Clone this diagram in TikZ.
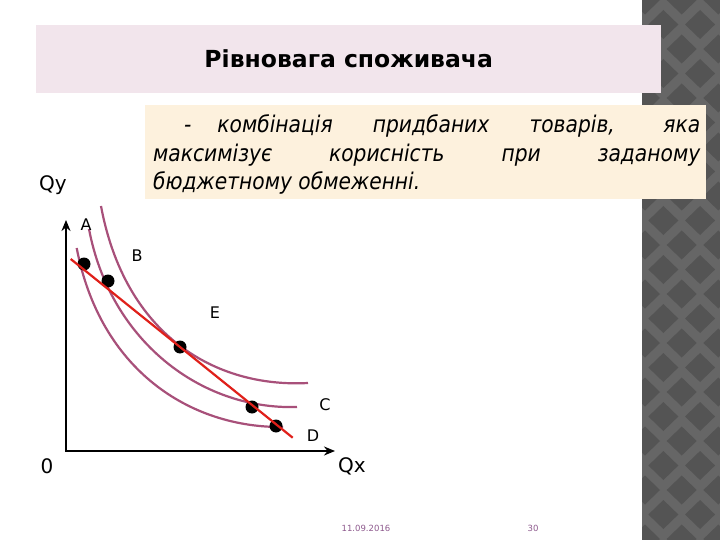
\documentclass[tikz,border=0pt]{standalone}
\usepackage{fontspec}
\setmainfont{DejaVu Sans}
\newfontfamily\narrowfont[FakeStretch=0.88]{DejaVu Sans}
\usetikzlibrary{arrows.meta}
\definecolor{pinkbg}{HTML}{F2E5EC}
\definecolor{creambg}{HTML}{FDF1DD}
\definecolor{stripLight}{HTML}{666666}
\definecolor{stripDark}{HTML}{545454}
\definecolor{curvecol}{HTML}{A8507A}
\definecolor{budgetcol}{HTML}{E0201A}
\definecolor{footcol}{HTML}{8E5A8E}
\tikzset{
  icurve/.style={draw=curvecol, line width=2.2pt},
  budget/.style={draw=budgetcol, line width=2.2pt},
  bundle/.style={circle, fill=black, inner sep=0pt, minimum size=13pt},
  axis/.style={line width=2.4pt, {Stealth[length=11pt,width=9pt]}-{Stealth[length=11pt,width=9pt]}},
  ptlabel/.style={font=\fontsize{16}{19}\selectfont, inner sep=0pt},
  axlabel/.style={font=\fontsize{20}{24}\selectfont, inner sep=0pt},
  foot/.style={font=\fontsize{8.5}{10}\selectfont, text=footcol, inner sep=0pt}
}
\begin{document}
\begin{tikzpicture}[x=1pt,y=-1pt]
\useasboundingbox (0,0) rectangle (720,540);
\fill[white] (0,0) rectangle (720,540);
% patterned strip
\fill[stripLight] (642,0) rectangle (720,540);
\begin{scope}
\clip (642,0) rectangle (720,540);
\foreach \l in {-11,...,13} {
  \foreach \k in {-2,...,2} {
    \pgfmathsetmacro{\cx}{681.7+36.7*\k+18.35*mod(\l+22,2)}
    \pgfmathsetmacro{\cy}{245+24.5*\l}
    \fill[stripDark] (\cx,\cy) +(-15,0) -- +(0,-14.5) -- +(15,0) -- +(0,14.5) -- cycle;
  }
}
\end{scope}
% title
\node (title) [fill=pinkbg, minimum width=625pt, minimum height=68pt, inner sep=0pt,
  anchor=north west, font=\bfseries\fontsize{23.5}{28}\selectfont] at (36,25) {Рівновага споживача};
% definition box
\node (defbox) [fill=creambg, minimum width=561pt, minimum height=94pt, inner sep=0pt, anchor=north west] at (145,105) {};
\node (deftext) [anchor=base west, inner sep=0pt] at (153,133) {\parbox[t]{547pt}{\narrowfont\itshape\fontsize{23}{28.5}\selectfont
\makebox[547pt][s]{\hspace*{31pt}-\hspace{26pt}комбінація придбаних товарів, яка}\\
\makebox[547pt][s]{максимізує корисність при заданому}\\
бюджетному обмеженні.}};
% axes
\coordinate (ytop) at (66,220);
\coordinate (O) at (66,451);
\coordinate (xend) at (335,451);
\draw[axis] (ytop) -- (O) -- (xend);
% indifference curves
\draw[icurve] (76.7,248) .. controls (100,370) and (190,428) .. (283,427);
\draw[icurve] (89,229) .. controls (110,340) and (200,410) .. (297,407);
\draw[icurve] (101,206) .. controls (125,335) and (215,388) .. (308,383);
% bundles
\node[bundle] (b1) at (84,264) {};
\node[bundle] (b2) at (108,281) {};
\node[bundle] (b3) at (180,347) {};
\node[bundle] (b4) at (252,407) {};
\node[bundle] (b5) at (276,426) {};
% budget line
\coordinate (bl1) at (70.7,259);
\coordinate (bl2) at (292.7,437.7);
\draw[budget] (bl1) -- (bl2);
% labels
\node[axlabel] (qy) at (53,185) {Qy};
\node[axlabel] (zero) at (47,466) {0};
\node[axlabel] (qx) at (352,466) {Qx};
\node[ptlabel] (la) at (86,225) {A};
\node[ptlabel] (lb) at (137,256) {B};
\node[ptlabel] (le) at (215,313) {E};
\node[ptlabel] (lc) at (325,405) {C};
\node[ptlabel] (ld) at (313,436) {D};
% footer
\node[foot] (date) at (366,528) {11.09.2016};
\node[foot] (page) at (533,528) {30};
\end{tikzpicture}
\end{document}
